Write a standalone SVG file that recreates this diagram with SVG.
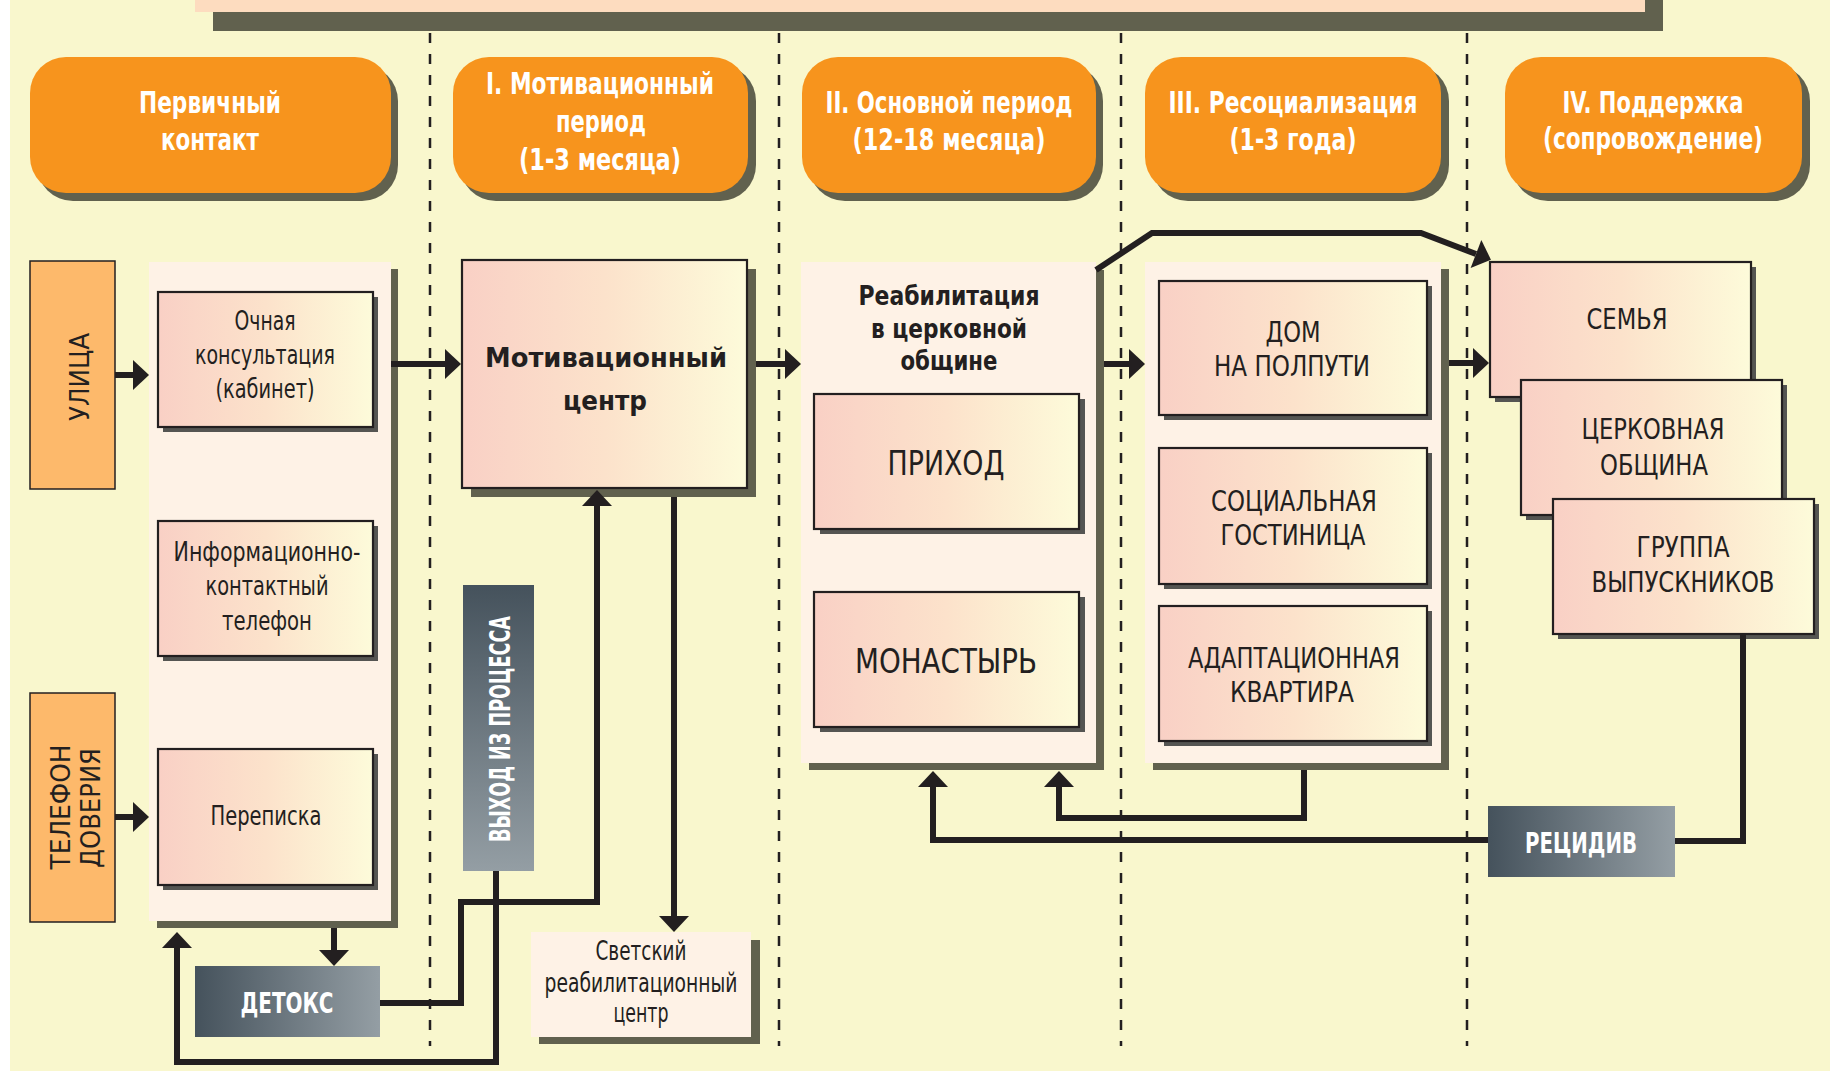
<svg xmlns="http://www.w3.org/2000/svg" width="1830" height="1073" viewBox="0 0 1830 1073">
<defs>
<linearGradient id="gBox" x1="0" y1="0" x2="1" y2="0">
<stop offset="0" stop-color="#F9D0C5"/><stop offset="0.5" stop-color="#FCE2CB"/><stop offset="1" stop-color="#FDFBDA"/>
</linearGradient>
<linearGradient id="gDark" x1="0" y1="0" x2="1" y2="0">
<stop offset="0" stop-color="#45525C"/><stop offset="1" stop-color="#949EA4"/>
</linearGradient>
<linearGradient id="gDarkV" x1="0" y1="0" x2="0" y2="1">
<stop offset="0" stop-color="#45525C"/><stop offset="1" stop-color="#949EA4"/>
</linearGradient>
<marker id="ah" markerUnits="userSpaceOnUse" markerWidth="17" markerHeight="30" refX="0" refY="15" orient="auto" overflow="visible">
<path d="M0,0 L16,15 L0,30 Z" fill="#231F20"/>
</marker>
<style>
.hdr{font-family:'Liberation Sans Narrow','DejaVu Sans Condensed',sans-serif;font-stretch:condensed;font-weight:bold;font-size:29.5px;fill:#fff;text-anchor:middle}
.t{font-family:'Liberation Sans Narrow','DejaVu Sans Condensed',sans-serif;font-stretch:condensed;font-size:26px;fill:#231F20;text-anchor:middle}
.tu{font-size:28px}
.big{font-size:34px}
.tb{font-weight:bold}
.wb{font-family:'Liberation Sans Narrow','DejaVu Sans Condensed',sans-serif;font-stretch:condensed;font-weight:bold;font-size:28px;fill:#fff;text-anchor:middle}
.hbox{fill:#F7941D}
.hsh{fill:#61614E}
.panel{fill:#FEF2E6}
.box{fill:url(#gBox);stroke:#231F20;stroke-width:2.2}
.bsh{fill:#555552}
.side{fill:#FDB96B;stroke:#231F20;stroke-width:1.5}
.ln{stroke:#231F20;stroke-width:6;fill:none;stroke-linejoin:miter}
.dash{stroke:#231F20;stroke-width:2.5;stroke-dasharray:10 11;fill:none}
</style>
</defs>

<rect x="0" y="0" width="1830" height="1073" fill="#FFFFFF"/>
<rect x="10" y="0" width="1820" height="1071" fill="#F9F7CD"/>

<!-- title bar -->
<g id="title">
<rect x="213" y="0" width="1450" height="31" class="hsh"/>
<rect x="195" y="0" width="1450" height="12" fill="#FDDCBF"/>
</g>

<!-- dashed separators -->
<g id="separators">
<line x1="430" y1="33" x2="430" y2="1046" class="dash"/>
<line x1="779" y1="33" x2="779" y2="1046" class="dash"/>
<line x1="1121" y1="33" x2="1121" y2="1046" class="dash"/>
<line x1="1467" y1="33" x2="1467" y2="1046" class="dash"/>
</g>

<!-- headers -->
<g id="h-primary">
<rect x="37" y="65" width="361" height="136" rx="36" class="hsh"/>
<rect x="30" y="57" width="361" height="136" rx="36" class="hbox"/>
<text class="hdr" x="210" y="113" textLength="142" lengthAdjust="spacingAndGlyphs">Первичный</text>
<text class="hdr" x="210" y="150" textLength="98" lengthAdjust="spacingAndGlyphs">контакт</text>
</g>
<g id="h-motiv">
<rect x="460" y="65" width="296" height="136" rx="36" class="hsh"/>
<rect x="453" y="57" width="295" height="136" rx="36" class="hbox"/>
<text class="hdr" x="600" y="94" textLength="228" lengthAdjust="spacingAndGlyphs">I. Мотивационный</text>
<text class="hdr" x="601" y="132" textLength="90" lengthAdjust="spacingAndGlyphs">период</text>
<text class="hdr" x="600" y="170" textLength="162" lengthAdjust="spacingAndGlyphs">(1-3 месяца)</text>
</g>
<g id="h-main">
<rect x="809" y="65" width="294" height="136" rx="36" class="hsh"/>
<rect x="802" y="57" width="294" height="136" rx="36" class="hbox"/>
<text class="hdr" x="949" y="113" textLength="247" lengthAdjust="spacingAndGlyphs">II. Основной период</text>
<text class="hdr" x="949" y="150" textLength="193" lengthAdjust="spacingAndGlyphs">(12-18 месяца)</text>
</g>
<g id="h-resoc">
<rect x="1152" y="65" width="297" height="136" rx="36" class="hsh"/>
<rect x="1145" y="57" width="296" height="136" rx="36" class="hbox"/>
<text class="hdr" x="1293" y="113" textLength="249" lengthAdjust="spacingAndGlyphs">III. Ресоциализация</text>
<text class="hdr" x="1293" y="150" textLength="127" lengthAdjust="spacingAndGlyphs">(1-3 года)</text>
</g>
<g id="h-support">
<rect x="1512" y="65" width="298" height="136" rx="36" class="hsh"/>
<rect x="1505" y="57" width="297" height="136" rx="36" class="hbox"/>
<text class="hdr" x="1653" y="113" textLength="181" lengthAdjust="spacingAndGlyphs">IV. Поддержка</text>
<text class="hdr" x="1653" y="149" textLength="220" lengthAdjust="spacingAndGlyphs">(сопровождение)</text>
</g>

<!-- side sources -->
<g id="street">
<rect x="30" y="261" width="85" height="228" class="side"/>
<text class="t" font-size="33" transform="translate(89,377) rotate(-90)" textLength="88" lengthAdjust="spacingAndGlyphs">УЛИЦА</text>
</g>
<g id="hotline">
<rect x="30" y="693" width="85" height="229" class="side"/>
<text class="t" font-size="33" transform="translate(70,807) rotate(-90)" textLength="125" lengthAdjust="spacingAndGlyphs">ТЕЛЕФОН</text>
<text class="t" font-size="33" transform="translate(100,808) rotate(-90)" textLength="120" lengthAdjust="spacingAndGlyphs">ДОВЕРИЯ</text>
</g>

<!-- primary contact panel -->
<g id="primary-panel">
<rect x="157" y="269" width="241" height="659" class="hsh"/>
<rect x="149" y="262" width="242" height="659" class="panel"/>
</g>
<g id="ochnaya">
<rect x="163" y="297" width="215" height="135" class="bsh"/>
<rect x="158" y="292" width="215" height="135" class="box"/>
<text class="t" x="265" y="330" textLength="61" lengthAdjust="spacingAndGlyphs">Очная</text>
<text class="t" x="265" y="364" textLength="140" lengthAdjust="spacingAndGlyphs">консультация</text>
<text class="t" x="265" y="398" textLength="99" lengthAdjust="spacingAndGlyphs">(кабинет)</text>
</g>
<g id="info">
<rect x="163" y="526" width="215" height="135" class="bsh"/>
<rect x="158" y="521" width="215" height="135" class="box"/>
<text class="t" x="267" y="561" textLength="187" lengthAdjust="spacingAndGlyphs">Информационно-</text>
<text class="t" x="267" y="595" textLength="123" lengthAdjust="spacingAndGlyphs">контактный</text>
<text class="t" x="267" y="630" textLength="90" lengthAdjust="spacingAndGlyphs">телефон</text>
</g>
<g id="perepiska">
<rect x="163" y="754" width="215" height="136" class="bsh"/>
<rect x="158" y="749" width="215" height="136" class="box"/>
<text class="t" x="266" y="825" textLength="111" lengthAdjust="spacingAndGlyphs">Переписка</text>
</g>

<!-- motivation center -->
<g id="motiv-center">
<rect x="471" y="269" width="285" height="228" class="hsh"/>
<rect x="462" y="260" width="285" height="228" class="box"/>
<text class="t tb" font-size="37" x="606" y="367" textLength="242" lengthAdjust="spacingAndGlyphs">Мотивационный</text>
<text class="t tb" font-size="37" x="605" y="410" textLength="84" lengthAdjust="spacingAndGlyphs">центр</text>
</g>

<g id="exit">
<rect x="463" y="585" width="71" height="286" fill="url(#gDarkV)"/>
<text class="wb" font-size="26" transform="translate(510,729) rotate(-90)" textLength="226" lengthAdjust="spacingAndGlyphs">ВЫХОД ИЗ ПРОЦЕССА</text>
</g>

<g id="detox">
<rect x="195" y="966" width="185" height="71" fill="url(#gDark)"/>
<text class="wb" x="287" y="1013" textLength="93" lengthAdjust="spacingAndGlyphs">ДЕТОКС</text>
</g>

<g id="secular">
<rect x="539" y="940" width="221" height="104" class="hsh"/>
<rect x="531" y="932" width="220" height="105" class="panel"/>
<text class="t" font-size="24" x="641" y="960" textLength="91" lengthAdjust="spacingAndGlyphs">Светский</text>
<text class="t" font-size="24" x="641" y="992" textLength="193" lengthAdjust="spacingAndGlyphs">реабилитационный</text>
<text class="t" font-size="24" x="641" y="1022" textLength="55" lengthAdjust="spacingAndGlyphs">центр</text>
</g>

<!-- rehabilitation in church community -->
<g id="rehab-panel">
<rect x="809" y="270" width="295" height="500" class="hsh"/>
<rect x="801" y="262" width="295" height="501" class="panel"/>
<text class="t tb" font-size="30.5" x="949" y="305" textLength="181" lengthAdjust="spacingAndGlyphs">Реабилитация</text>
<text class="t tb" font-size="30.5" x="949" y="338" textLength="156" lengthAdjust="spacingAndGlyphs">в церковной</text>
<text class="t tb" font-size="30.5" x="949" y="370" textLength="97" lengthAdjust="spacingAndGlyphs">общине</text>
</g>
<g id="prihod">
<rect x="820" y="399" width="265" height="135" class="bsh"/>
<rect x="814" y="394" width="265" height="135" class="box"/>
<text class="t big" x="946" y="475" textLength="117" lengthAdjust="spacingAndGlyphs">ПРИХОД</text>
</g>
<g id="monastyr">
<rect x="820" y="597" width="265" height="135" class="bsh"/>
<rect x="814" y="592" width="265" height="135" class="box"/>
<text class="t big" x="946" y="673" textLength="182" lengthAdjust="spacingAndGlyphs">МОНАСТЫРЬ</text>
</g>

<!-- resocialization -->
<g id="resoc-panel">
<rect x="1153" y="269" width="296" height="501" class="hsh"/>
<rect x="1145" y="262" width="296" height="501" class="panel"/>
</g>
<g id="dom">
<rect x="1164" y="286" width="268" height="134" class="bsh"/>
<rect x="1159" y="281" width="268" height="134" class="box"/>
<text class="t tu" x="1293" y="342" textLength="55" lengthAdjust="spacingAndGlyphs">ДОМ</text>
<text class="t tu" x="1292" y="376" textLength="156" lengthAdjust="spacingAndGlyphs">НА ПОЛПУТИ</text>
</g>
<g id="hotel">
<rect x="1164" y="453" width="268" height="136" class="bsh"/>
<rect x="1159" y="448" width="268" height="136" class="box"/>
<text class="t tu" x="1294" y="511" textLength="166" lengthAdjust="spacingAndGlyphs">СОЦИАЛЬНАЯ</text>
<text class="t tu" x="1293" y="545" textLength="145" lengthAdjust="spacingAndGlyphs">ГОСТИНИЦА</text>
</g>
<g id="flat">
<rect x="1164" y="611" width="268" height="135" class="bsh"/>
<rect x="1159" y="606" width="268" height="135" class="box"/>
<text class="t tu" x="1294" y="668" textLength="212" lengthAdjust="spacingAndGlyphs">АДАПТАЦИОННАЯ</text>
<text class="t tu" x="1292" y="702" textLength="124" lengthAdjust="spacingAndGlyphs">КВАРТИРА</text>
</g>

<!-- support -->
<g id="family">
<rect x="1495" y="267" width="261" height="135" class="bsh"/>
<rect x="1490" y="262" width="261" height="135" class="box"/>
<text class="t tu" x="1627" y="329" textLength="81" lengthAdjust="spacingAndGlyphs">СЕМЬЯ</text>
</g>
<g id="community">
<rect x="1526" y="385" width="261" height="135" class="bsh"/>
<rect x="1521" y="380" width="261" height="135" class="box"/>
<text class="t tu" x="1653" y="439" textLength="143" lengthAdjust="spacingAndGlyphs">ЦЕРКОВНАЯ</text>
<text class="t tu" x="1654" y="475" textLength="108" lengthAdjust="spacingAndGlyphs">ОБЩИНА</text>
</g>
<g id="graduates">
<rect x="1558" y="504" width="261" height="135" class="bsh"/>
<rect x="1553" y="499" width="261" height="135" class="box"/>
<text class="t tu" x="1683" y="557" textLength="93" lengthAdjust="spacingAndGlyphs">ГРУППА</text>
<text class="t tu" x="1683" y="592" textLength="183" lengthAdjust="spacingAndGlyphs">ВЫПУСКНИКОВ</text>
</g>

<g id="relapse">
<rect x="1488" y="806" width="187" height="71" fill="url(#gDark)"/>
<text class="wb" font-size="29" x="1581" y="853" textLength="112" lengthAdjust="spacingAndGlyphs">РЕЦИДИВ</text>
</g>

<!-- connectors -->
<g id="connectors">
<path class="ln" d="M115,375 H133" marker-end="url(#ah)"/>
<path class="ln" d="M115,817 H133" marker-end="url(#ah)"/>
<path class="ln" d="M391,364 H445" marker-end="url(#ah)"/>
<path class="ln" d="M756,364 H785" marker-end="url(#ah)"/>
<path class="ln" d="M1104,364 H1129" marker-end="url(#ah)"/>
<path class="ln" d="M1449,363 H1473" marker-end="url(#ah)"/>
<path class="ln" d="M334,928 V950" marker-end="url(#ah)"/>
<path class="ln" d="M674,497 V916" marker-end="url(#ah)"/>
<path class="ln" d="M380,1003 H461 V902 H597 V506" marker-end="url(#ah)"/>
<path class="ln" d="M496,871 V1062 H177 V948" marker-end="url(#ah)"/>
<path class="ln" d="M1488,840 H933 V787" marker-end="url(#ah)"/>
<path class="ln" d="M1304,770 V818 H1059 V787" marker-end="url(#ah)"/>
<path class="ln" d="M1743,634 V841 H1675"/>
<path class="ln" d="M1096,270 L1152,233 H1421 L1476,254" marker-end="url(#ah)"/>
</g>
</svg>
